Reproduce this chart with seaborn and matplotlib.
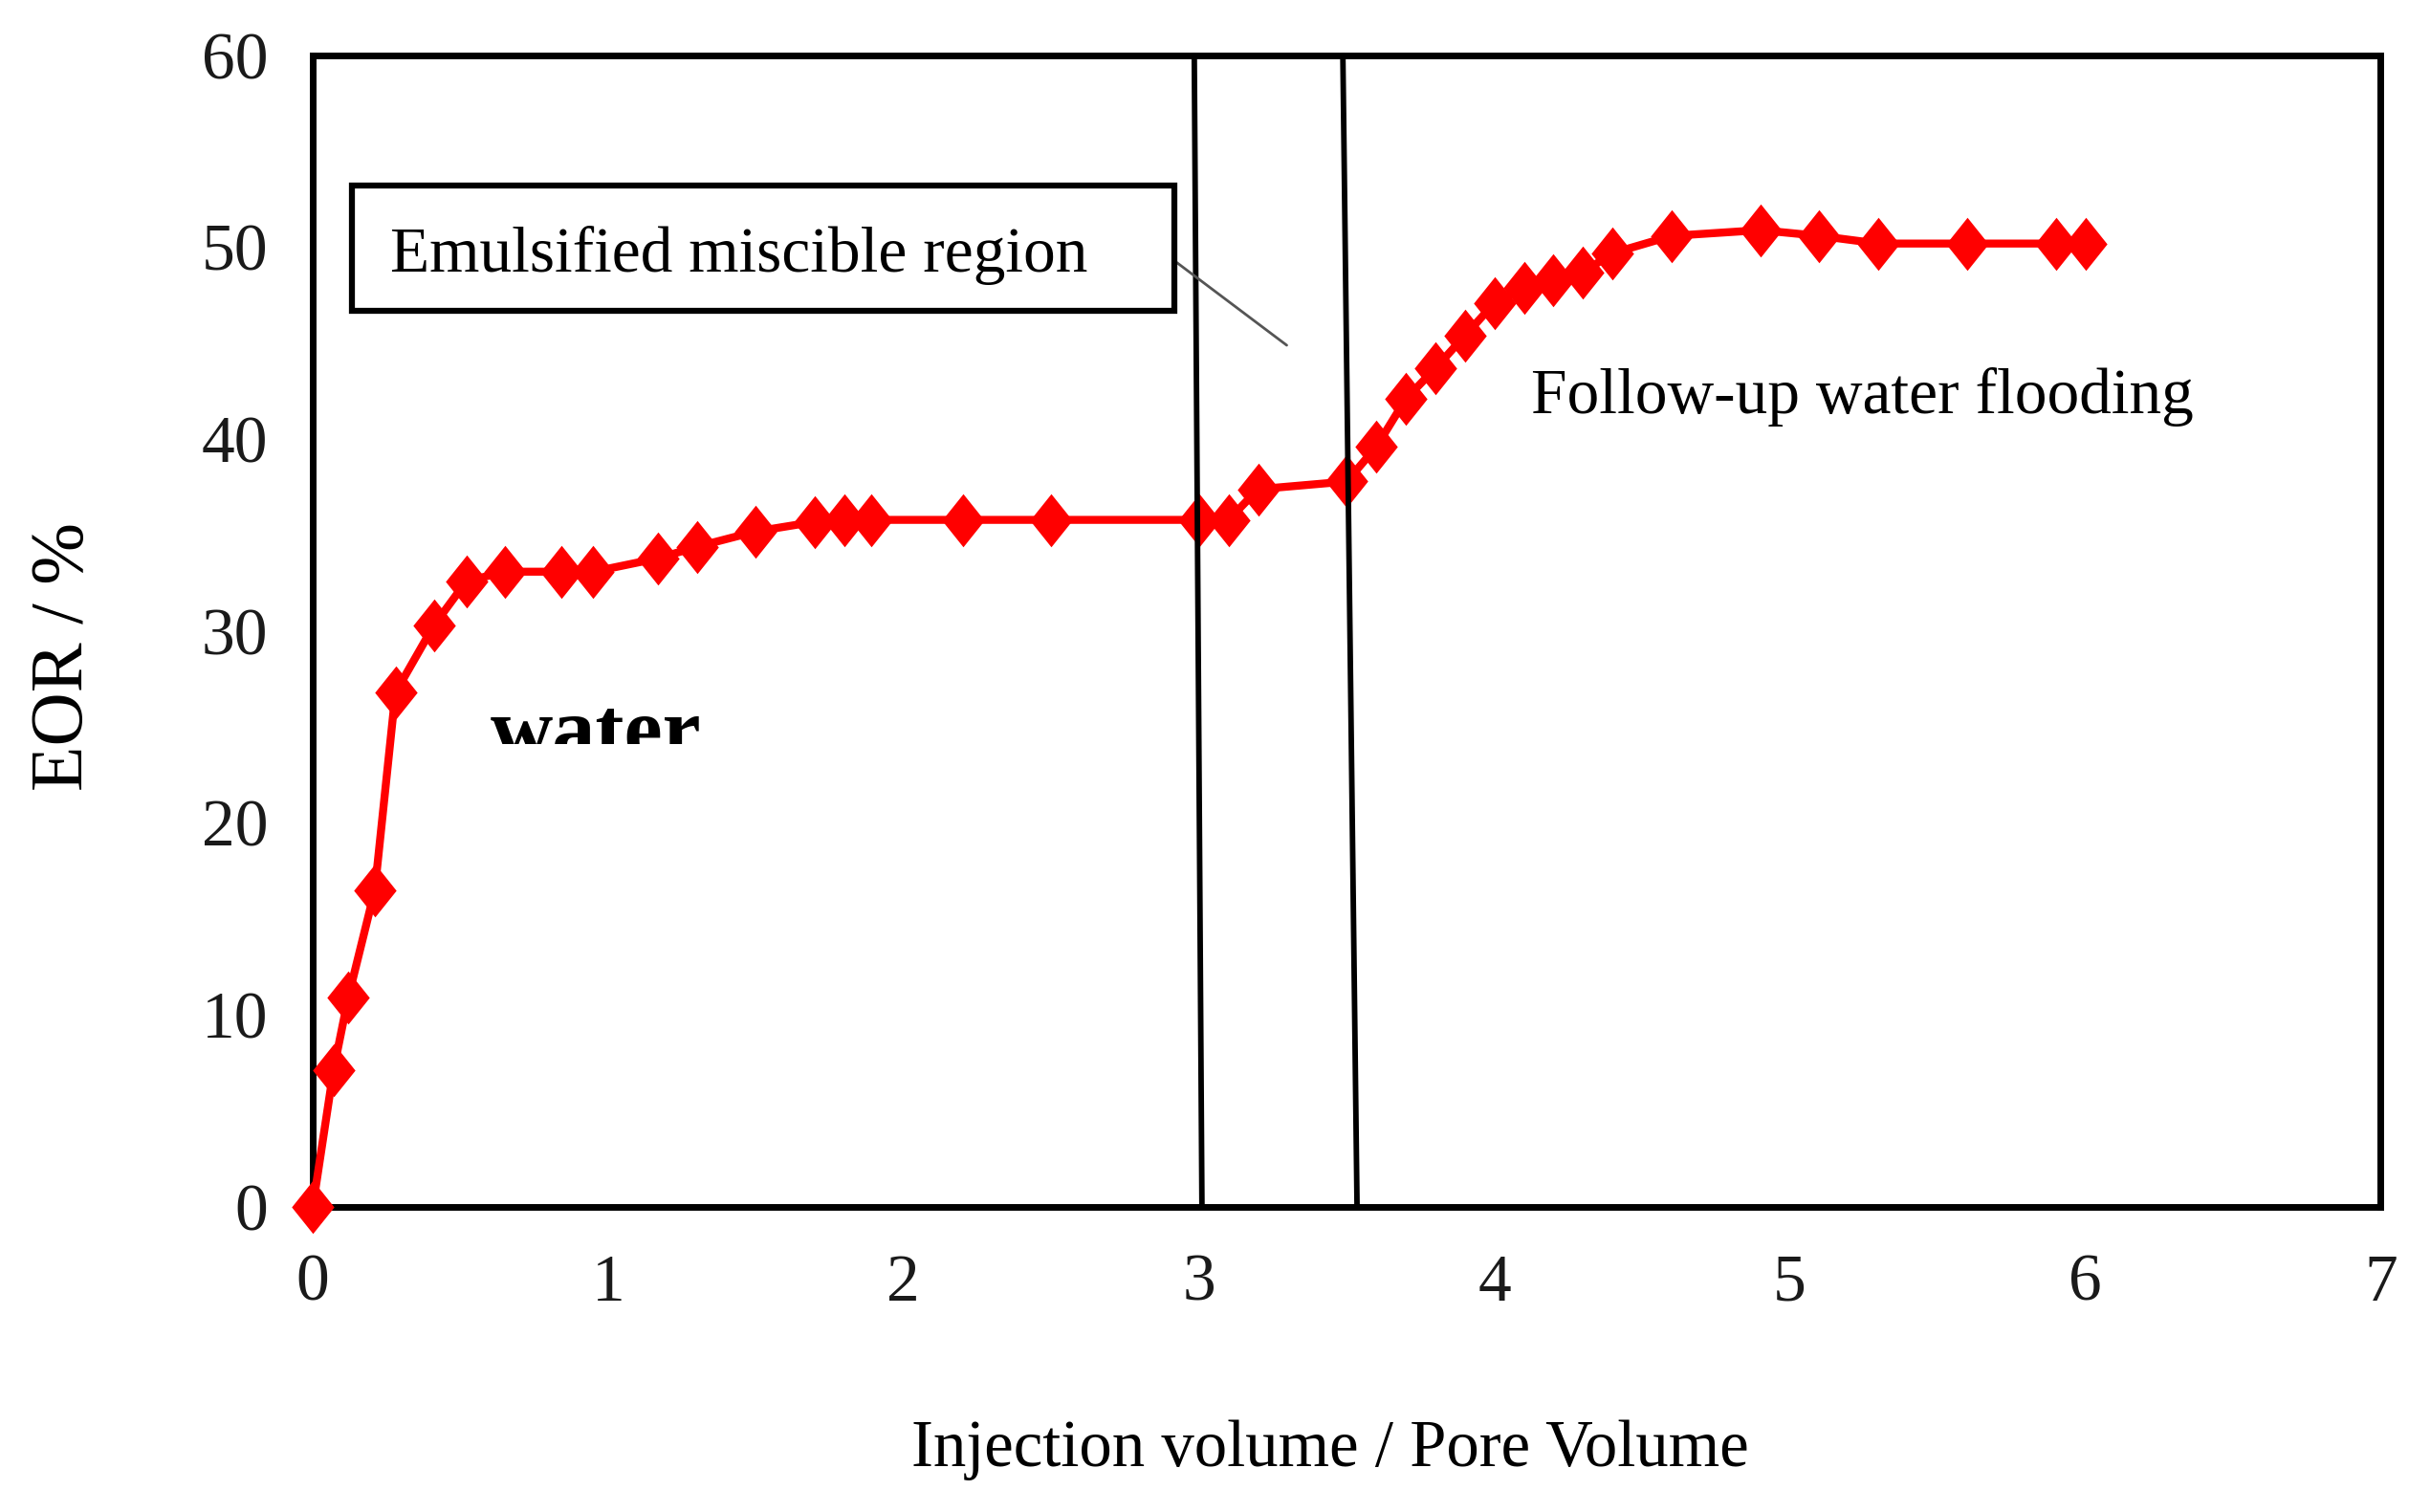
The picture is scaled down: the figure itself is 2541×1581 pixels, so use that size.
import matplotlib
matplotlib.use("Agg")
import matplotlib.pyplot as plt
import seaborn as sns
import pandas as pd
from matplotlib.patches import Rectangle
from matplotlib.transforms import Bbox, TransformedBbox

# ---- data ----
injection_pv = [0, 0.07, 0.12, 0.21, 0.28, 0.41, 0.52, 0.65, 0.84, 0.95, 1.17, 1.30,
                1.50, 1.70, 1.80, 1.89, 2.20, 2.50, 3.00, 3.10, 3.20, 3.50, 3.60, 3.70,
                3.80, 3.90, 4.00, 4.10, 4.20, 4.30, 4.40, 4.60, 4.90, 5.10, 5.30, 5.60,
                5.90, 6.00]
eor_pct = [0, 7.1, 10.9, 16.5, 26.8, 30.3, 32.6, 33.1, 33.1, 33.1, 33.8, 34.4,
           35.2, 35.7, 35.8, 35.8, 35.8, 35.8, 35.8, 35.8, 37.4, 37.8, 39.6, 42.1,
           43.7, 45.4, 47.1, 47.9, 48.3, 48.7, 49.7, 50.6, 50.9, 50.6, 50.2, 50.2,
           50.2, 50.2]
x_ticks = [0, 1, 2, 3, 4, 5, 6, 7]
y_ticks = [0, 10, 20, 30, 40, 50, 60]
boundary1_x = [2.984, 3.010]
boundary2_x = [3.487, 3.535]
boundary_y = [60, 0]
box_label = "Emulsified miscible region"
flood_label = "Follow-up water flooding"
water_label = "water"
x_label = "Injection volume / Pore Volume"
y_label = "EOR / %"

sns.set_theme(style="white")
plt.rcParams['font.family'] = ['Liberation Serif', 'DejaVu Serif']

fig = plt.figure(figsize=(25.41, 15.81), dpi=100)
ax = fig.add_axes([0.1287, 0.2018, 0.851, 0.7615])

df = pd.DataFrame({"pv": injection_pv, "eor": eor_pct})
diamond = [(0, 1), (0.8, 0), (0, -1), (-0.8, 0), (0, 1)]
sns.lineplot(data=df, x="pv", y="eor", ax=ax, color="#ff0000", linewidth=6,
             marker=diamond, markersize=40, markeredgewidth=0,
             markerfacecolor="#ff0000", sort=False, estimator=None, zorder=5,
             clip_on=False)

ax.set_xlim(0, 7)
ax.set_ylim(0, 60)
ax.set_xticks(x_ticks)
ax.set_yticks(y_ticks)
ax.set_xticklabels([str(v) for v in x_ticks])
ax.set_yticklabels([str(v) for v in y_ticks])

for s in ax.spines.values():
    s.set_visible(True)
    s.set_color("black")
    s.set_linewidth(5)
ax.tick_params(axis="both", direction="out", length=13.5, width=2.4,
               color="#222222", labelcolor="#1a1a1a", labelsize=50)
ax.tick_params(axis="x", pad=22)
ax.tick_params(axis="y", pad=20)
ax.grid(False)

# boundary lines
ax.plot(boundary1_x, boundary_y, color="black", lw=4.2, zorder=6, clip_on=False)
ax.plot(boundary2_x, boundary_y, color="black", lw=4.2, zorder=6, clip_on=False)

# annotation box
ax.add_patch(Rectangle((0.132, 46.7), 2.917 - 0.132, 53.2 - 46.7, fill=False,
                       edgecolor="black", lw=4.5, zorder=7))
ax.text(0.261, 49.6, box_label, fontsize=48.5, va="center", ha="left", color="black", zorder=8)
ax.plot([2.917, 3.297], [49.3, 44.9], color="#555555", lw=2, zorder=6)

ax.text(4.125, 42.2, flood_label, fontsize=48.5, va="center", ha="left", color="black", zorder=8)

# partially visible "water" text (clipped)
t = ax.text(0.60, 23.4, water_label, fontsize=65, fontweight="bold", va="baseline",
            ha="left", color="black", zorder=8)
t.set_clip_box(TransformedBbox(Bbox([[0, 24.1], [7, 60]]), ax.transData))
t.set_clip_on(True)

ax.set_xlabel(x_label, fontsize=49.5, color="black")
ax.set_ylabel(y_label, fontsize=56, color="black")
ax.xaxis.set_label_coords(0.492, -0.211)
ax.xaxis.label.set_va("center")
ax.yaxis.set_label_coords(-0.120, 0.478)
ax.yaxis.label.set_va("center")
ax.yaxis.label.set_ha("center")

fig.savefig("out.png", dpi=100, facecolor="white")
